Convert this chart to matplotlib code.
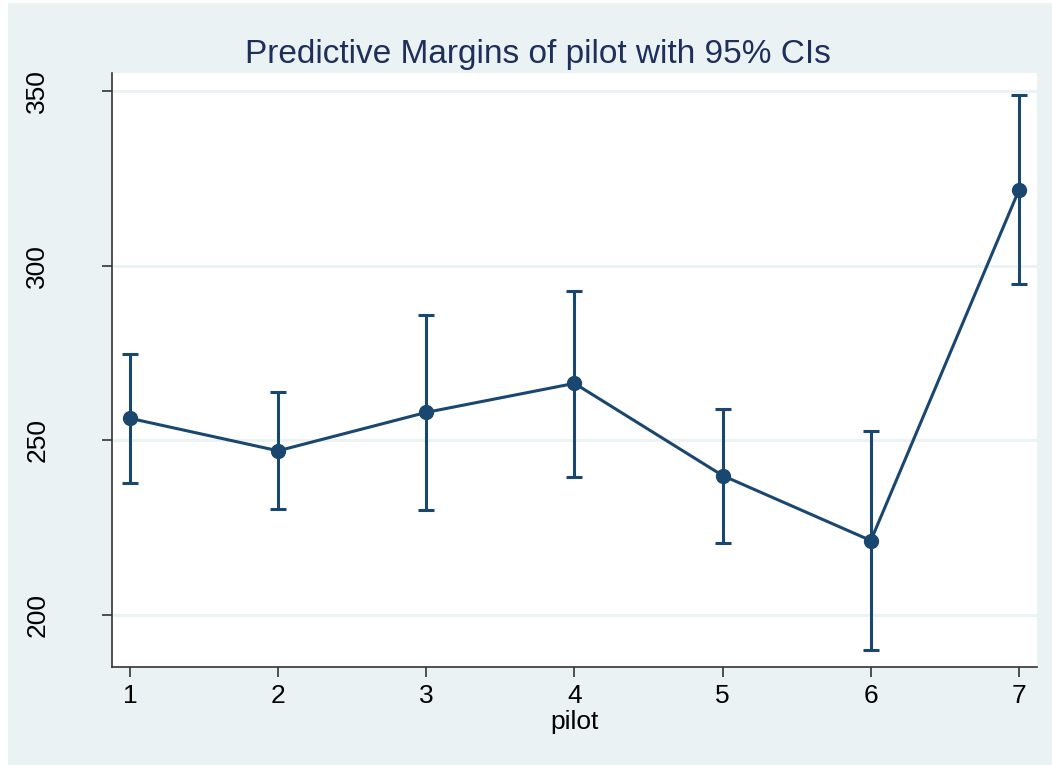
import matplotlib.pyplot as plt
from matplotlib.patches import Rectangle

pilot = [1, 2, 3, 4, 5, 6, 7]
margin = [256.3, 247.0, 258.0, 266.3, 239.9, 221.3, 321.7]
ci_low = [237.9, 230.4, 230.0, 239.6, 220.5, 190.0, 294.8]
ci_high = [274.7, 263.9, 286.0, 292.8, 259.0, 252.6, 348.8]
yticks = [200, 250, 300, 350]

navy = "#1a476f"
bg = "#eaf2f3"

plt.rcParams['font.family'] = ['Liberation Sans', 'DejaVu Sans']

fig = plt.figure(figsize=(10.52, 7.65), dpi=100, facecolor="white")
# stata-style outer panel, leaving a thin white border
fig.patches.append(Rectangle((8 / 1052, 0), 1 - 8 / 1052, 762 / 765,
                             transform=fig.transFigure, facecolor=bg,
                             edgecolor="none", zorder=-10))

ax = fig.add_axes([0.1065, 0.1285, 0.9857 - 0.1065, 0.9046 - 0.1285])
ax.set_facecolor("white")

lower = [m - lo for m, lo in zip(margin, ci_low)]
upper = [hi - m for m, hi in zip(margin, ci_high)]
ax.errorbar(pilot, margin, yerr=[lower, upper], fmt="none", ecolor=navy,
            elinewidth=2.2, capsize=6, capthick=2.2, zorder=3)
ax.plot(pilot, margin, color=navy, linewidth=2.2, marker="o",
        markersize=10, zorder=4)

ax.set_xlim(0.879, 7.121)
ax.set_ylim(185.2, 355.15)
ax.set_xticks(pilot)
ax.set_yticks(yticks)
ax.set_yticklabels([str(t) for t in yticks], rotation=90, va="center")
ax.grid(axis="y", color=bg, linewidth=2.0)
ax.set_axisbelow(True)

for side in ["top", "right"]:
    ax.spines[side].set_visible(False)
for side in ["left", "bottom"]:
    ax.spines[side].set_color("#333333")
    ax.spines[side].set_linewidth(1.2)
ax.tick_params(direction="out", length=7.2, width=1.2, color="#333333",
               labelsize=19)
ax.tick_params(axis="x", pad=5)
ax.tick_params(axis="y", pad=38)

ax.set_xlabel("pilot", fontsize=19, labelpad=2)
fig.text(538 / 1052, 1 - 63 / 765, "Predictive Margins of pilot with 95% CIs",
         fontsize=24, color="#1e2f5a", ha="center", va="baseline")

fig.savefig("out.png", dpi=100, facecolor=fig.get_facecolor())
